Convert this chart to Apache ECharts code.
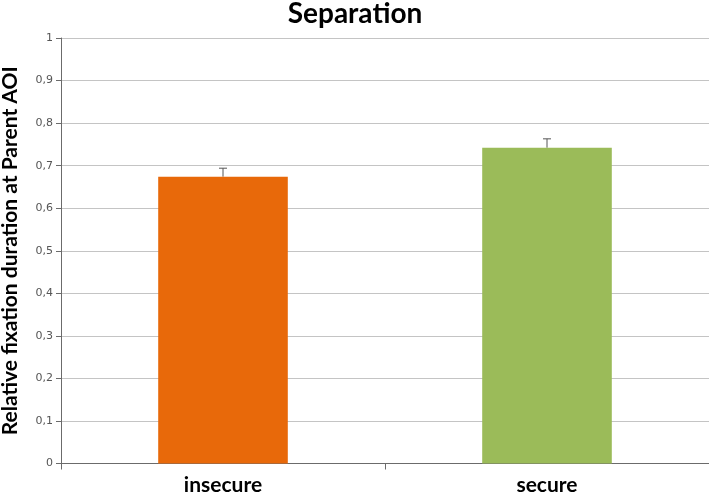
<!DOCTYPE html>
<html><head><meta charset="utf-8">
<script src="https://cdn.jsdelivr.net/npm/echarts@6/dist/echarts.min.js"></script>
<style>html,body{margin:0;padding:0;background:#fff}#c{width:709px;height:494px}</style>
</head><body><div id="c"></div>
<script>
const categories = ['insecure', 'secure'];
const means = [0.674, 0.742];
const errors = [0.020, 0.021];
const barColors = ['#E8690A', '#9BBB59'];

const chart = echarts.init(document.getElementById('c'), null, {renderer: 'canvas'});
chart.setOption({
  animation: false,
  title: {
    text: 'Separation', left: 350, top: -5, textAlign: 'center',
    textStyle: {fontFamily: 'Lato', fontWeight: 'bold', fontSize: 28, color: '#000'}
  },
  grid: {left: 61, right: 0, top: 38, bottom: 30.5, containLabel: false, outerBoundsMode: 'none'},
  xAxis: {
    type: 'category', data: categories,
    axisLine: {lineStyle: {color: '#6b6b6b', width: 1}},
    axisTick: {show: true, length: 6, lineStyle: {color: '#6b6b6b'}},
    axisLabel: {fontFamily: 'Lato', fontWeight: 'bold', fontSize: 21, color: '#000', margin: 11}
  },
  yAxis: {
    type: 'value', min: 0, max: 1, interval: 0.1,
    name: 'Relative fixation duration at Parent AOI', nameLocation: 'middle', nameGap: 40,
    nameTextStyle: {fontFamily: 'Lato', fontWeight: 'bold', fontSize: 21, color: '#000'},
    axisLine: {show: true, lineStyle: {color: '#6b6b6b'}},
    axisTick: {show: true, length: 5, inside: false, lineStyle: {color: '#6b6b6b'}},
    splitLine: {lineStyle: {color: '#c4c4c4'}},
    axisLabel: {
      fontFamily: 'DejaVu Sans', fontSize: 11, color: '#555', margin: 8,
      formatter: v => (Math.round(v * 10) / 10).toString().replace('.', ',')
    }
  },
  series: [
    {
      type: 'bar', barWidth: '40%',
      data: means.map((v, i) => ({value: v, itemStyle: {color: barColors[i]}}))
    },
    {
      type: 'custom', z: 1,
      data: means.map((v, i) => [i, v, v + errors[i]]),
      renderItem: (params, api) => {
        const x = api.value(0);
        const p0 = api.coord([x, api.value(1)]);
        const p1 = api.coord([x, api.value(2)]);
        const w = 4;
        return {
          type: 'group',
          children: [
            {type: 'line', shape: {x1: p0[0], y1: p0[1], x2: p1[0], y2: p1[1]}, style: {stroke: '#555', lineWidth: 1}},
            {type: 'line', shape: {x1: p1[0] - w, y1: p1[1], x2: p1[0] + w, y2: p1[1]}, style: {stroke: '#555', lineWidth: 1}}
          ]
        };
      }
    }
  ]
});
</script></body></html>
